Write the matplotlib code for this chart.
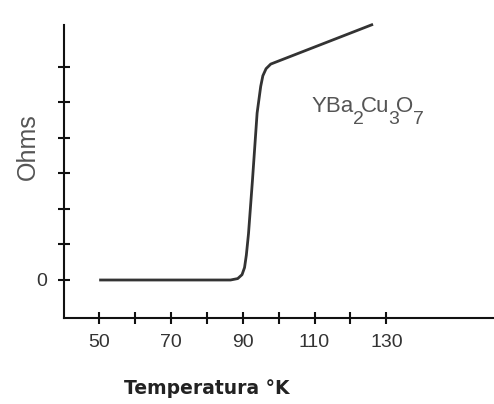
import matplotlib.pyplot as plt

# resistance curve (arbitrary units, one tick = 1)
temp_k = [50, 86.6, 88.6, 89.8, 90.5, 91.0, 91.6, 92.7, 94.0, 95.0, 95.6, 96.5, 97.8, 126.3]
ohms = [0, 0, 0.04, 0.15, 0.35, 0.7, 1.3, 2.8, 4.7, 5.45, 5.75, 5.95, 6.08, 7.2]

x_ticks = [50, 60, 70, 80, 90, 100, 110, 120, 130]
x_labels = ['50', '', '70', '', '90', '', '110', '', '130']
y_ticks = [0, 1, 2, 3, 4, 5, 6]
y_labels = ['0', '', '', '', '', '', '']

# formula pieces: (text, is subscript)
formula = [('YBa', False), ('2', True), ('Cu', False), ('3', True), ('O', False), ('7', True)]

W, H = 494, 404
fig = plt.figure(figsize=(W / 100, H / 100), dpi=100)
ax = fig.add_axes([64 / W, 1 - 318 / H, 1 - 64 / W, (318 - 25) / H])

ax.plot(temp_k, ohms, color='#333333', lw=2, clip_on=False, solid_capstyle='butt')

ax.set_xlim(40.2, 160)
ax.set_ylim(-1.07, 7.18)

for side in ['top', 'right']:
    ax.spines[side].set_visible(False)
for side in ['left', 'bottom']:
    ax.spines[side].set_linewidth(1.5)
    ax.spines[side].set_color('#111111')

ax.set_xticks(x_ticks)
ax.set_xticklabels(x_labels)
ax.set_yticks(y_ticks)
ax.set_yticklabels(y_labels)
ax.tick_params(direction='inout', length=9, width=1.5, color='#111111',
               labelsize=14, labelcolor='#333333')
ax.tick_params(axis='x', pad=7)
ax.tick_params(axis='y', pad=8)
for lab in ax.get_xticklabels() + ax.get_yticklabels():
    lab.set_fontfamily('Liberation Sans')

fig.text(28 / W, 1 - 147 / H, 'Ohms', fontsize=18, color='#555555', family='Liberation Sans',
         rotation=90, ha='center', va='center')
fig.text(207 / W, 1 - 388 / H, 'Temperatura °K', fontsize=13.5, fontweight='bold', color='#222222',
         ha='center', va='center')

# formula with low, full-size subscripts
renderer = fig.canvas.get_renderer()
x = 312
for txt, sub in formula:
    y = 120 if sub else 106
    t = fig.text(x / W, 1 - y / H, txt, fontsize=14 if sub else 16, color='#555555',
                 family='Liberation Sans', ha='left', va='center')
    x += t.get_window_extent(renderer).width - (3 if sub else 1)

fig.savefig('out.png', dpi=100, facecolor='white')
